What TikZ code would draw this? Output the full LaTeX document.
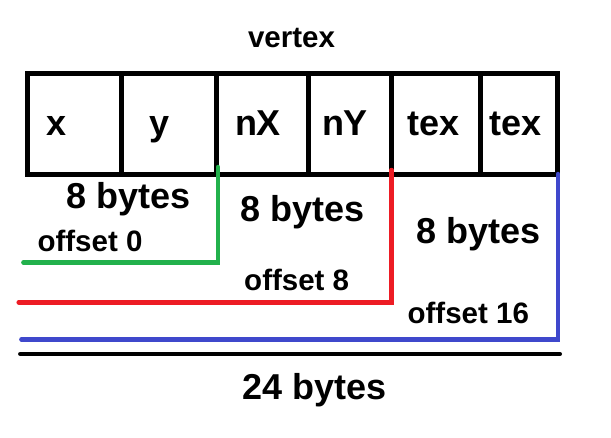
\documentclass[tikz,border=0pt]{standalone}
\usepackage{fontspec}
\setmainfont{Liberation Sans}
\usepackage{xcolor}
\usetikzlibrary{positioning}

\definecolor{offgreen}{HTML}{22B14C}
\definecolor{offred}{HTML}{ED1C24}
\definecolor{offblue}{HTML}{3F48CC}

\begin{document}
\begin{tikzpicture}[x=1pt, y=-1pt,
        cell/.style={rectangle, draw, line width=5pt, minimum height=101pt, inner sep=0pt, outer sep=0pt},
        big/.style={anchor=base, inner sep=0pt, font=\fontsize{36}{40}\selectfont\bfseries},
        small/.style={anchor=base, inner sep=0pt, font=\fontsize{29.5}{34}\selectfont\bfseries},
        line/.style={draw, line width=4.5pt, line cap=round}]
    \useasboundingbox (0,0) rectangle (611,437);

    % Nodes
    \node [small] (title) at (291.5,47) {vertex};
    \node [cell, minimum width=94pt] (cx) at (74,123.5) {};
    \node [cell, minimum width=95pt, right=0pt of cx] (cy) {};
    \node [cell, minimum width=92pt, right=0pt of cy] (cnx) {};
    \node [cell, minimum width=83.5pt, right=0pt of cnx] (cny) {};
    \node [cell, minimum width=88.5pt, right=0pt of cny] (ctexa) {};
    \node [cell, minimum width=77pt, right=0pt of ctexa] (ctexb) {};

    \node [big] (lx) at (56.7,135) {x};
    \node [big] (ly) at (160,135) {y};
    \node [big] (lnx) at (258,135) {nX};
    \node [big] (lny) at (345,135) {nY};
    \node [big] (ltexa) at (434,135) {tex};
    \node [big] (ltexb) at (516,135) {tex};

    \node [big] (sizea) at (128.7,208) {8 bytes};
    \node [big] (sizeb) at (302.5,221.7) {8 bytes};
    \node [big] (sizec) at (479,243.3) {8 bytes};
    \node [small] (offa) at (90,251.7) {offset 0};
    \node [small] (offb) at (296.7,290.5) {offset 8};
    \node [small] (offc) at (468.3,323.3) {offset 16};
    \node [big] (total) at (315,399) {24 bytes};

    \coordinate (enda) at (23.4,262.3);
    \coordinate (endb) at (18.7,302.3);
    \coordinate (endc) at (21.4,339.3);
    \coordinate (totl) at (20.3,354);
    \coordinate (totr) at (559.8,354);

    % Edges
    \path [line, offgreen] ([xshift=2pt, yshift=7pt]cy.south east) |- (enda);
    \path [line, offred] ([yshift=4pt]cny.south east) |- (endb);
    \path [line, offblue] ([xshift=1pt]ctexb.south east) |- (endc);
    \path [line, black] (totl) -- (totr);
\end{tikzpicture}
\end{document}
